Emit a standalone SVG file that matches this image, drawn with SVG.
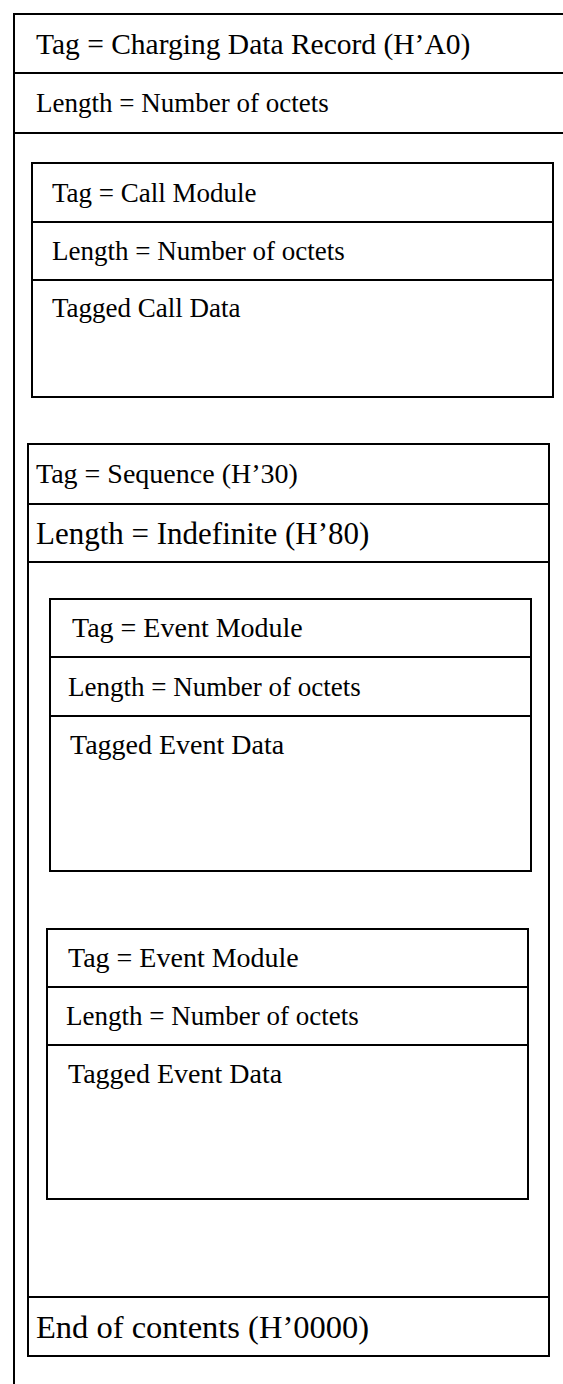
<svg xmlns="http://www.w3.org/2000/svg" width="563" height="1384" viewBox="0 0 563 1384">
<style>
.box{fill:none;stroke:#000;stroke-width:2}
.ln{stroke:#000;stroke-width:2}
text{font-family:"Liberation Serif","Times New Roman",serif;fill:#000;font-size:27px}
.t1{font-size:29.5px}
.t7{font-size:31px}
.t8{font-size:32.5px}
.t6{font-size:28px}
.ev{font-size:28px}
</style>
<rect width="563" height="1384" fill="#fff"/>
<g id="record">
<path class="box" d="M563,14 H14 V1384"/>
<line class="ln" x1="14" y1="73" x2="563" y2="73"/>
<line class="ln" x1="14" y1="133" x2="563" y2="133"/>
<text class="t1" x="36" y="54">Tag = Charging Data Record (H’A0)</text>
<text x="36" y="112">Length = Number of octets</text>
</g>
<g id="call-module">
<rect class="box" x="32" y="163" width="521" height="234"/>
<line class="ln" x1="32" y1="222" x2="553" y2="222"/>
<line class="ln" x1="32" y1="280" x2="553" y2="280"/>
<text x="52" y="202">Tag = Call Module</text>
<text x="52" y="260">Length = Number of octets</text>
<text x="52" y="317">Tagged Call Data</text>
</g>
<g id="sequence">
<rect class="box" x="28" y="444" width="521" height="912"/>
<line class="ln" x1="28" y1="504" x2="549" y2="504"/>
<line class="ln" x1="28" y1="562" x2="549" y2="562"/>
<line class="ln" x1="28" y1="1297" x2="549" y2="1297"/>
<text class="t6" x="36" y="483">Tag = Sequence (H’30)</text>
<text class="t7" x="36" y="544">Length = Indefinite (H’80)</text>
<text class="t8" x="36" y="1338">End of contents (H’0000)</text>
</g>
<g id="event-module-1">
<rect class="box" x="50" y="599" width="481" height="272"/>
<line class="ln" x1="50" y1="657" x2="531" y2="657"/>
<line class="ln" x1="50" y1="716" x2="531" y2="716"/>
<text class="ev" x="72" y="637">Tag = Event Module</text>
<text x="68" y="696">Length = Number of octets</text>
<text class="ev" x="70" y="754">Tagged Event Data</text>
</g>
<g id="event-module-2">
<rect class="box" x="47" y="929" width="481" height="270"/>
<line class="ln" x1="47" y1="987" x2="528" y2="987"/>
<line class="ln" x1="47" y1="1045" x2="528" y2="1045"/>
<text class="ev" x="68" y="967">Tag = Event Module</text>
<text x="66" y="1025">Length = Number of octets</text>
<text class="ev" x="68" y="1083">Tagged Event Data</text>
</g>
<g id="connectors"/>
</svg>
